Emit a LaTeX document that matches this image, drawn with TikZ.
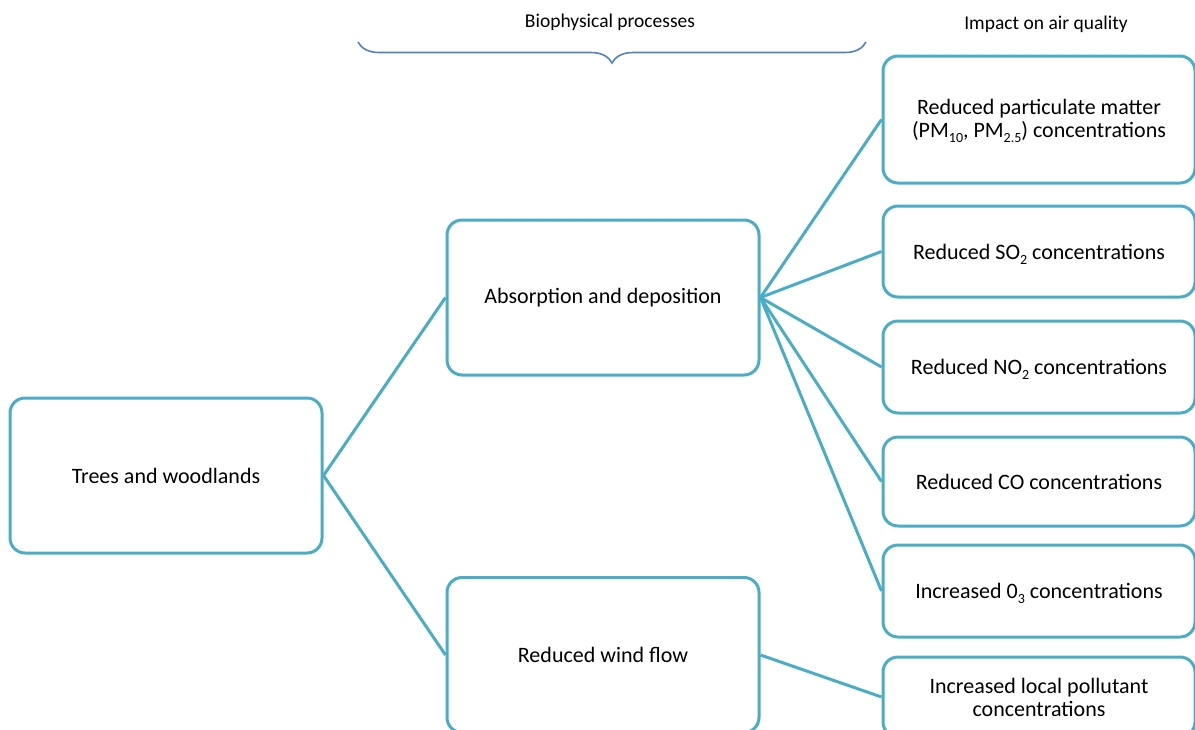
\documentclass[tikz,border=0pt]{standalone}
\usepackage{fontspec}
\setmainfont{Carlito}
\usetikzlibrary{decorations.pathreplacing}

\definecolor{boxblue}{RGB}{75,172,198}
\definecolor{braceblue}{RGB}{79,129,189}

\newcommand{\lowsub}[1]{\smash{\raisebox{-0.5ex}{\fontsize{14}{14}\selectfont #1}}}

\tikzset{
  box/.style={shape=rectangle,draw=boxblue,fill=white,rounded corners=15pt,line width=3pt,align=center,minimum width=312pt,font=\fontsize{22}{23}\selectfont},
  link/.style={-,draw=boxblue,line width=3pt},
  head/.style={font=\fontsize{19.5}{24}\selectfont}
}

\begin{document}
\begin{tikzpicture}[x=1pt,y=-1pt]
\useasboundingbox (0,0) rectangle (1195,729);
\clip (0,0) rectangle (1195,729);
\node[head] (bio) at (610,22) {Biophysical processes};
\node[head] (air) at (1046,24) {Impact on air quality};
\draw[braceblue,line width=1.6pt,decorate,decoration={brace,mirror,amplitude=21pt}] (358,42) -- (866,42);

\node[box,minimum height=155pt] (trees) at (166,475.5) {Trees and woodlands};
\node[box,minimum height=155pt] (absorb) at (603,297.5) {Absorption and deposition};
\node[box,minimum height=155pt] (wind) at (603,655) {Reduced wind flow};

\node[box,minimum height=127pt] (pm) at (1039,119.5) {Reduced particulate matter\\(PM\lowsub{10}, PM\lowsub{2.5}) concentrations};
\node[box,minimum height=91pt] (so2) at (1039,251.5) {Reduced SO\lowsub{2} concentrations};
\node[box,minimum height=92pt] (no2) at (1039,367) {Reduced NO\lowsub{2} concentrations};
\node[box,minimum height=89pt] (co) at (1039,481.5) {Reduced CO concentrations};
\node[box,minimum height=92pt] (o3) at (1039,591) {Increased 0\lowsub{3} concentrations};
\node[box,minimum height=80pt] (local) at (1039,697) {Increased local pollutant\\concentrations};

\path [link] (trees.east) edge (absorb.west);
\path [link] (trees.east) edge (wind.west);
\path [link] (absorb.east) edge (pm.west);
\path [link] (absorb.east) edge (so2.west);
\path [link] (absorb.east) edge (no2.west);
\path [link] (absorb.east) edge (co.west);
\path [link] (absorb.east) edge (o3.west);
\path [link] (wind.east) edge (local.west);
\end{tikzpicture}
\end{document}
